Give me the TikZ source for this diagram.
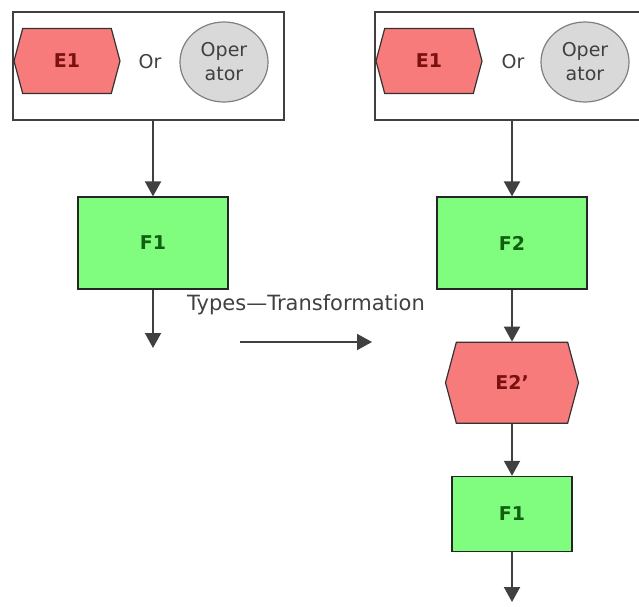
\documentclass[tikz,border=0pt]{standalone}
\usepackage{fontspec}
\setmainfont{DejaVu Sans}
\usetikzlibrary{positioning, shapes.symbols, shapes.geometric, arrows.meta}

\definecolor{evfill}{HTML}{F87B7B}
\definecolor{evtext}{HTML}{7A1010}
\definecolor{fnfill}{HTML}{80FC7E}
\definecolor{fntext}{HTML}{106010}
\definecolor{opfill}{HTML}{D9D9D9}
\definecolor{linegray}{HTML}{404040}

\begin{document}
\begin{tikzpicture}[
            x=1pt, y=-1pt,
            group/.style={draw=linegray, line width=1.3pt, rectangle, minimum width=271pt, minimum height=108pt, fill=white},
            event/.style={draw=black!80, line width=1.2pt, signal, signal to=east and west, signal pointer angle=150, fill=evfill, text=evtext, font=\fontsize{19}{21}\selectfont\bfseries, inner sep=0pt},
            func/.style={draw=black!85, line width=1.2pt, rectangle, fill=fnfill, text=fntext, font=\fontsize{19}{21}\selectfont\bfseries},
            oper/.style={draw=gray, line width=1.2pt, ellipse, fill=opfill, minimum width=88pt, minimum height=80pt, inner sep=0pt, align=center, text=black!75, font=\fontsize{19}{24}\selectfont},
            word/.style={text=black!75, font=\fontsize{19}{21}\selectfont},
            flow/.style={draw=linegray, line width=2pt, -{Triangle[length=15pt, width=16pt]}}
        ]

        \useasboundingbox (0,0) rectangle (639,606);

        % left side: before
        \node[group] (src1) at (148.5,66) {};
        \node[event, minimum width=106pt, minimum height=65pt] (ev1) at (67,61) {E1};
        \node[word] (or1) at (150,62) {Or};
        \node[oper] (op1) at (224,62) {Oper\\ator};
        \node[func, minimum width=150pt, minimum height=92pt] (fa) at (153,243) {F1};
        \coordinate (enda) at (153,348);

        % transformation arrow
        \node[word, font=\fontsize{21}{23}\selectfont] (trlabel) at (306,305) {Types—Transformation};
        \coordinate (trstart) at (240,342);
        \coordinate (trend) at (372,342);

        % right side: after
        \node[group] (src2) at (510.5,66) {};
        \node[event, minimum width=106pt, minimum height=65pt] (ev2) at (429,61) {E1};
        \node[word] (or2) at (513,62) {Or};
        \node[oper] (op2) at (585,62) {Oper\\ator};
        \node[func, minimum width=150pt, minimum height=92pt] (fb) at (512,243) {F2};
        \node[event, minimum width=133pt, minimum height=81pt, below=52pt of fb] (evb) {E2'};
        \node[func, minimum width=120pt, minimum height=75pt, below=52pt of evb] (fc) {F1};
        \coordinate[below=50pt of fc.south] (endc);

        % connectors
        \draw[flow] (src1.south -| fa) -- (fa.north);
        \draw[flow] (fa.south) -- (enda);
        \draw[flow] (trstart) -- (trend);
        \draw[flow] (src2.south -| fb) -- (fb.north);
        \draw[flow] (fb.south) -- (evb.north);
        \draw[flow] (evb.south) -- (fc.north);
        \draw[flow] (fc.south) -- (endc);

    \end{tikzpicture}
\end{document}
